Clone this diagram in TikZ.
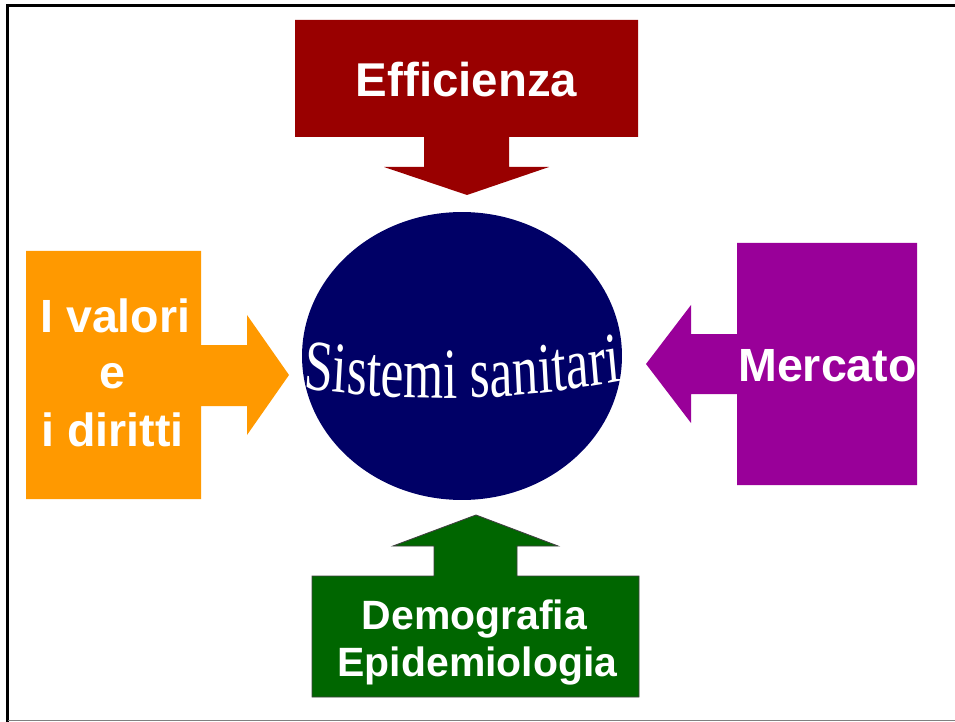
\documentclass[tikz,border=0pt]{standalone}
\usepackage{fontspec}
\setmainfont{Liberation Sans}
\newfontfamily\serifx{Liberation Serif}
\usetikzlibrary{shapes.geometric,decorations.text}
\definecolor{cred}{HTML}{990000}
\definecolor{corange}{HTML}{FF9900}
\definecolor{cpurple}{HTML}{990099}
\definecolor{cgreen}{HTML}{006600}
\definecolor{cnavy}{HTML}{000066}
\tikzset{
  lbl/.style={text=white, inner sep=0pt, font=\bfseries},
  blockshape/.style={draw=none}
}
\begin{document}
\begin{tikzpicture}[x=0.02cm,y=-0.02cm]
\useasboundingbox (0,0) rectangle (955,722);
% frame
\draw[line width=1.4pt, black] (7.5,722) -- (7.5,5.5) -- (955,5.5);
\draw[line width=0.7pt, gray] (7.5,720.6) -- (955,720.6);
% ellipse
\node[ellipse, fill=cnavy, minimum width=6.4cm, minimum height=5.76cm, inner sep=0pt] (sys) at (462,356) {};
% shapes
\fill[cred] (295,20) -- (638,20) -- (638,137) -- (509,137) -- (509,167) -- (549,167) -- (467,195) -- (384,167) -- (424,167) -- (424,137) -- (295,137) -- cycle;
\fill[corange] (26,251) -- (201,251) -- (201,345) -- (247,345) -- (247,315) -- (289,375) -- (247,435) -- (247,406) -- (201,406) -- (201,499) -- (26,499) -- cycle;
\fill[cpurple] (737,243) -- (917,243) -- (917,485) -- (737,485) -- (737,394) -- (691,394) -- (691,423) -- (646,364) -- (691,305) -- (691,334) -- (737,334) -- cycle;
\filldraw[fill=cgreen, draw=black!75, line width=0.5pt] (312,576) -- (434,576) -- (434,546) -- (393,546) -- (476,515) -- (558,546) -- (517,546) -- (517,576) -- (639,576) -- (639,697) -- (312,697) -- cycle;
% labels
\node[lbl, anchor=base, font=\bfseries\fontsize{27}{32}\selectfont] (eff) at (466.5,97) {Efficienza};
\node[lbl, anchor=base, font=\bfseries\fontsize{26.5}{32}\selectfont] (merc) at (827.5,381.5) {Mercato};
\node[lbl, anchor=base west, font=\bfseries\fontsize{26.5}{32}\selectfont] (val1) at (40,332.5) {I valori};
\node[lbl, anchor=base, font=\bfseries\fontsize{26.5}{32}\selectfont] (val2) at (112.5,388) {e};
\node[lbl, anchor=base west, font=\bfseries\fontsize{26.5}{32}\selectfont] (val3) at (41,446.5) {i diritti};
\node[lbl, anchor=base, font=\bfseries\fontsize{23.3}{28}\selectfont] (demo) at (474.5,629) {Demografia};
\node[lbl, anchor=base, font=\bfseries\fontsize{23.3}{28}\selectfont] (epi) at (477.5,676.5) {Epidemiologia};
% curved title
\begin{scope}[transform canvas={yscale=1.4}]
\path[decorate, decoration={text along path, text align=center, text color=white,
  text={|\serifx\fontsize{29.3}{30}\selectfont|Sistemi sanitari}}]
  (303,277.14) .. controls (409.7,288.36) and (515.3,286.64) .. (622,272.14);
\end{scope}
\end{tikzpicture}
\end{document}
